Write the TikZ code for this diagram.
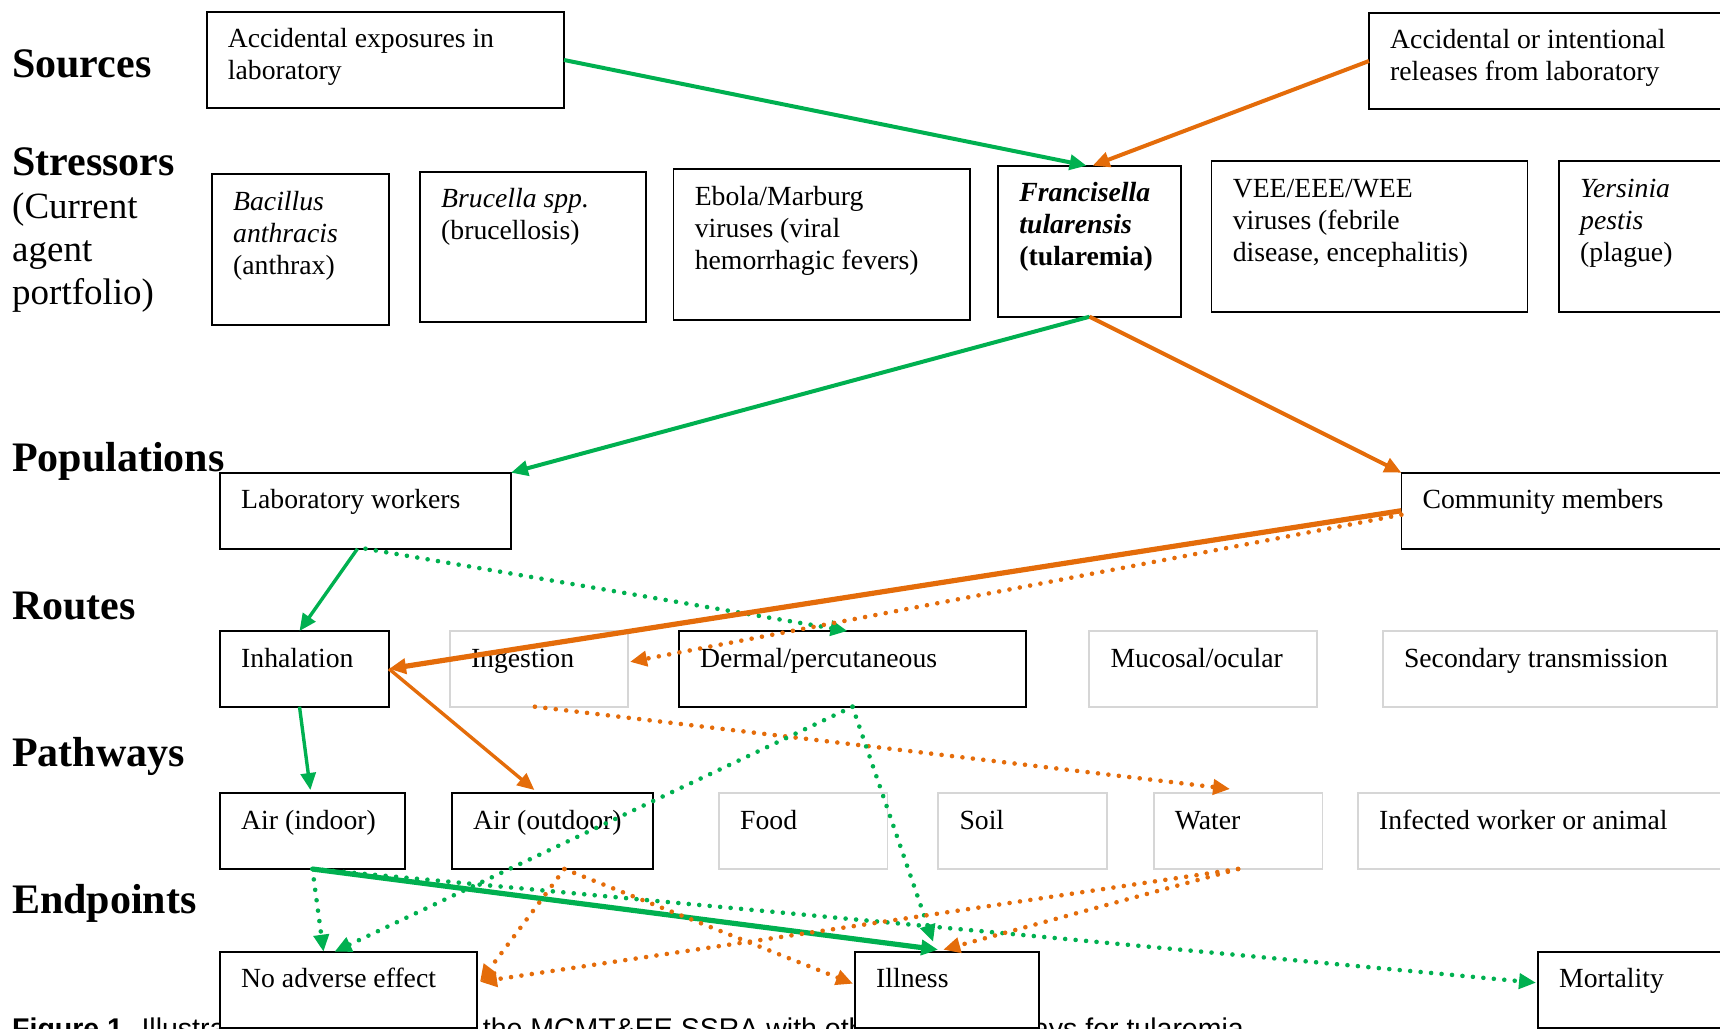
\documentclass[tikz,border=0pt]{standalone}
\usepackage{fontspec}
\setmainfont{Liberation Serif}
\newfontfamily\capfont{Liberation Sans}
\usetikzlibrary{arrows.meta, calc}
\definecolor{hijau}{RGB}{0,176,80}
\definecolor{oranye}{RGB}{228,108,10}
\definecolor{abu}{RGB}{214,214,214}

\begin{document}
\begin{tikzpicture}[
  x=1pt, y=-1pt,
  font=\fontsize{27.7}{32}\selectfont,
  box/.style={draw=black, line width=1.7pt, fill=white, inner sep=0pt, outer sep=0pt},
  greybox/.style={box, draw=abu},
  txt/.style={anchor=base west, inner sep=0pt},
  rowlabel/.style={anchor=base west, inner sep=0pt, font=\fontsize{42}{46}\selectfont\bfseries},
  sublabel/.style={anchor=base west, inner sep=0pt, font=\fontsize{37}{43}\selectfont},
  capt/.style={anchor=base west, inner sep=0pt, font=\capfont\fontsize{28.5}{33}\selectfont},
  arr/.style={-{Triangle[length=17pt, width=15pt]}},
  dotarrow/.style={arr, line width=4.6pt, line cap=round, dash pattern=on 0pt off 10.5pt},
  solidg/.style={arr, hijau, line width=4pt},
  solido/.style={arr, oranye, line width=4pt},
  thickg/.style={arr, hijau, line width=5.2pt},
  thicko/.style={arr, oranye, line width=5.2pt},
  dotg/.style={dotarrow, hijau},
  doto/.style={dotarrow, oranye}
]

% ----- batas gambar -----
\useasboundingbox (0,0) rectangle (1720,1028);
\clip (0,0) rectangle (1720,1028);

% ----- keterangan gambar (terpotong di tepi bawah) -----
\node[capt] (cap1) at (12,1038) {\textbf{Figure 1.} Illustration of an};
\node[capt] (cap2) at (482.7,1038) {the MCMT\&EE SSRA with other};
\node[capt, anchor=base east] (cap3) at (1244,1038) {pathways for tularemia};

% ----- label baris -----
\node[rowlabel] (lsrc) at (12,77) {Sources};
\node[rowlabel] (lstr) at (12,175) {Stressors};
\node[sublabel] (lagent) at (12,218) {\parbox[t]{220pt}{(Current\\agent\\portfolio)}};
\node[rowlabel] (lpop) at (12,471.7) {Populations};
\node[rowlabel] (lrte) at (12,619) {Routes};
\node[rowlabel] (lpth) at (12,766.7) {Pathways};
\node[rowlabel] (lend) at (12,913.3) {Endpoints};

% ----- kotak bergaris hitam: nama/kiri/atas/kanan/bawah/teks -----
\foreach \nm/\xa/\ya/\xb/\yb/\words in {
  src1/206.7/11.7/564/108.3/{Accidental exposures in\\laboratory},
  src2/1369/12.7/1730/109.3/{Accidental or intentional\\releases from laboratory},
  bac/212/174/389/325/{\textit{Bacillus}\\\textit{anthracis}\\(anthrax)},
  bru/420/171.7/646/322.3/{\textit{Brucella spp.}\\(brucellosis)},
  ebo/673.6/169.3/969.7/320/{Ebola/Marburg\\viruses (viral\\hemorrhagic fevers)},
  fra/998.2/165.7/1181/316.7/{\textbf{\textit{Francisella}}\\\textbf{\textit{tularensis}}\\\textbf{(tularemia)}},
  vee/1211.6/161/1527.6/311.7/{VEE/EEE/WEE\\viruses (febrile\\disease, encephalitis)},
  yer/1559/161/1730/311.7/{\textit{Yersinia}\\\textit{pestis}\\(plague)},
  lab/220/472.7/511/548.7/{Laboratory workers},
  com/1401.4/472.7/1730/548.7/{Community members},
  inh/220/631/389/706.7/{Inhalation},
  der/679/631/1026/706.7/{Dermal/percutaneous},
  ain/220/793/404.8/869/{Air (indoor)},
  aout/452/793/652.8/869/{Air (outdoor)},
  noa/220/951.7/477/1027.7/{No adverse effect},
  ill/855/951.7/1039.3/1027.7/{Illness},
  mor/1538/951.7/1730/1027.7/{Mortality}%
}{
  \node[box, minimum width=\xb-\xa, minimum height=\yb-\ya] (\nm) at ({(\xa+\xb)/2},{(\ya+\yb)/2}) {};
  \node[txt] (\nm-t) at ($(\nm.north west)+(21,36)$) {\parbox[t]{330pt}{\words}};
}

% ----- kotak bergaris abu-abu (tidak dipakai pada jalur ini) -----
\foreach \nm/\xa/\ya/\xb/\yb/\words in {
  ing/449.8/631/628/706.7/{Ingestion},
  muc/1089.3/631/1317/706.7/{Mucosal/ocular},
  sec/1382.8/631/1716.8/706.7/{Secondary transmission},
  food/719/793/887.4/869/{Food},
  soil/938.3/793/1106.7/869/{Soil},
  wat/1153.7/793/1322.4/869/{Water},
  inf/1358/793/1730/869/{Infected worker or animal}%
}{
  \node[greybox, minimum width=\xb-\xa, minimum height=\yb-\ya] (\nm) at ({(\xa+\xb)/2},{(\ya+\yb)/2}) {};
  \node[txt] (\nm-t) at ($(\nm.north west)+(21,36)$) {\words};
}

% ----- sumber ke stresor -----
\draw[solidg] (src1.east) -- ($(fra.north)+(-3,0)$);
\draw[solido] (src2.west) -- ($(fra.north)+(3,0)$);

% ----- stresor ke populasi -----
\draw[solidg] (fra.south) -- (lab.north east);
\draw[solido] (fra.south) -- (com.north west);

% ----- populasi ke rute -----
\draw[solidg, line width=3.4pt] ($(lab.south)+(-8,0)$) -- ($(inh.north)+(-5,0)$);
\draw[dotg] (lab.south) -- ($(der.north)+(-5,0)$);
\draw[thicko] (com.west) -- (inh.east);
\draw[doto] ($(com.west)+(0,4)$) -- ($(ing.east)+(2,-7)$);

% ----- rute ke jalur paparan -----
\draw[solidg, line width=3.4pt] ($(inh.south)+(-5,0)$) -- ($(ain.north)+(-2,-3)$);
\draw[solido, line width=3.4pt] (inh.east) -- ($(aout.north)+(-18,-3)$);
\draw[doto] ($(ing.south)+(-4,0)$) -- ($(wat.north)+(-8,-4)$);

% ----- jalur paparan ke titik akhir -----
\draw[dotg] (ain.south) -- ($(noa.north)+(-25,0)$);
\draw[dotg] (ain.south) -- ($(mor.west)+(-2,-7)$);
\draw[thickg] (ain.south) -- ($(ill.north)+(-9,-2)$);
\draw[dotg] (der.south) -- ($(noa.north)+(-14,0)$);
\draw[dotg] (der.south) -- ($(ill.north)+(-14,-10)$);
\draw[doto] ($(aout.south)+(12,0)$) -- ($(noa.east)+(3,-8)$);
\draw[doto] ($(aout.south)+(12,0)$) -- ($(ill.west)+(-2,-6)$);
\draw[doto] (wat.south) -- ($(noa.east)+(3,-8)$);
\draw[doto] (wat.south) -- ($(ill.north)+(-4,-2)$);
\end{tikzpicture}
\end{document}
